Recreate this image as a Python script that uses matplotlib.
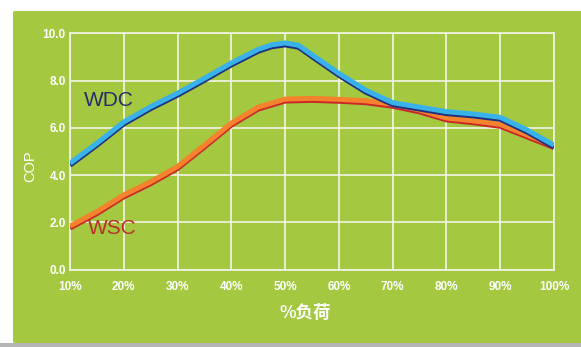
import matplotlib
matplotlib.use('Agg')
import matplotlib.pyplot as plt
import matplotlib.patheffects as pe
from matplotlib.patches import FancyBboxPatch, Rectangle

# load (%) and COP values
load = [10, 15, 20, 25, 30, 35, 40, 45, 50, 55, 60, 65, 70, 75, 80, 85, 90, 95, 100]
wdc_load = [10, 15, 20, 25, 30, 35, 40, 45, 47.5, 50, 52.5, 55, 60, 65, 70, 75, 80,
            85, 90, 95, 100]
wdc = [4.5, 5.35, 6.25, 6.9, 7.47, 8.1, 8.75, 9.33, 9.52, 9.6, 9.5, 9.1, 8.31, 7.6,
       7.07, 6.88, 6.69, 6.59, 6.45, 5.91, 5.27]
wsc = [1.84, 2.45, 3.16, 3.72, 4.36, 5.27, 6.2, 6.88, 7.22, 7.25, 7.21, 7.15, 7.0,
       6.76, 6.42, 6.3, 6.15, 5.7, 5.25]
xticks = [10, 20, 30, 40, 50, 60, 70, 80, 90, 100]
xtick_labels = ['10%', '20%', '30%', '40%', '50%', '60%', '70%', '80%', '90%', '100%']
yticks = [0, 2, 4, 6, 8, 10]
ytick_labels = ['0.0', '2.0', '4.0', '6.0', '8.0', '10.0']

green = '#a4c83f'
grid_c = '#f3f5e6'

fig = plt.figure(figsize=(5.81, 3.47), dpi=100)
fig.patch.set_facecolor('white')

# green panel behind the chart
panel = FancyBboxPatch((13 / 581, 4 / 347), 1.2, 332 / 347,
                       boxstyle='round,pad=0,rounding_size=0.004',
                       transform=fig.transFigure, facecolor=green,
                       edgecolor='none', zorder=0)
fig.patches.append(panel)
fig.patches.append(Rectangle((0, 0), 1, 4 / 347, transform=fig.transFigure,
                             facecolor='#b4b4b4', edgecolor='none', zorder=0))

ax = fig.add_axes([70 / 581, 1 - 269.5 / 347, 484 / 581, 236 / 347])
ax.set_zorder(2)
ax.set_facecolor('none')
ax.set_xlim(10, 100)
ax.set_ylim(0, 10)
ax.set_xticks(xticks)
ax.set_xticklabels(xtick_labels)
ax.set_yticks(yticks)
ax.set_yticklabels(ytick_labels)
ax.tick_params(length=0, colors='white', labelsize=8.5)
ax.tick_params(axis='x', pad=8)
ax.tick_params(axis='y', pad=3)
for lab in ax.get_xticklabels() + ax.get_yticklabels():
    lab.set_fontweight('bold')
    lab.set_family('Liberation Sans')
ax.grid(True, color=grid_c, lw=1.2)
for s in ax.spines.values():
    s.set_color(grid_c)
    s.set_linewidth(1.2)

ax.plot(load, wsc, color='#f5822c', lw=3.6, solid_capstyle='butt',
        solid_joinstyle='round', zorder=3,
        path_effects=[pe.SimpleLineShadow(offset=(0, -1.4), shadow_color='#c8282a',
                                          alpha=1, rho=1), pe.Normal()])
ax.plot(wdc_load, wdc, color='#38b2e8', lw=3.6, solid_capstyle='butt',
        solid_joinstyle='round', zorder=4,
        path_effects=[pe.SimpleLineShadow(offset=(0, -1.4), shadow_color='#1f2f7e',
                                          alpha=1, rho=1), pe.Normal()])

ax.text(17.2, 7.14, 'WDC', color='#252e6c', fontsize=15, family='Liberation Sans',
        ha='center', va='center', zorder=5)
ax.text(17.8, 1.72, 'WSC', color='#b8302c', fontsize=15, family='Liberation Sans',
        ha='center', va='center', zorder=5)

fig.text(30 / 581, 1 - 166 / 347, 'COP', rotation=90, color='white', fontsize=10.5,
         family='Liberation Sans', ha='center', va='center', zorder=3)
fig.text(305 / 581, 1 - 313 / 347, '%负荷', color='white', fontsize=12.5,
         family=['Noto Sans CJK SC', 'DejaVu Sans'], fontweight='bold',
         ha='center', va='center', zorder=3)

fig.savefig('out.png', dpi=100)
